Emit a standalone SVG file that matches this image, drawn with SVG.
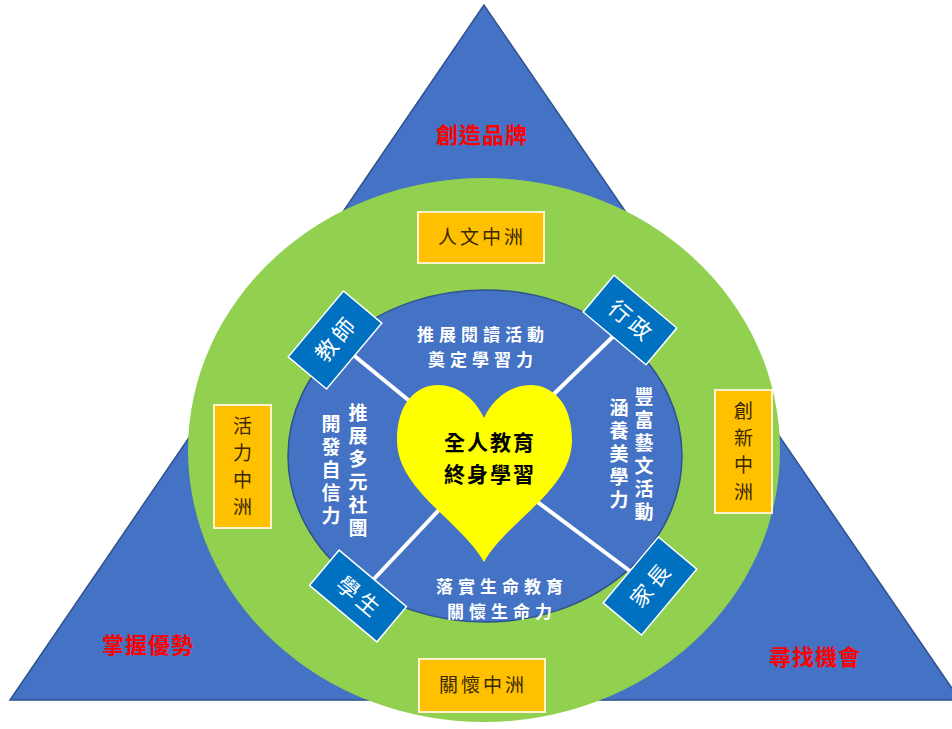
<svg xmlns="http://www.w3.org/2000/svg" width="952" height="729" viewBox="0 0 952 729">
<style>
.cjk{font-family:"Noto Sans CJK TC","Noto Sans CJK SC",sans-serif}
.red{fill:#FF0000;font-size:22px;font-weight:bold;text-anchor:middle}
.wt{fill:#FFFFFF;font-size:19px;font-weight:bold;text-anchor:middle}
.wh{font-size:17px;letter-spacing:5px}
.vt{writing-mode:vertical-rl;letter-spacing:4px}
.ob{fill:#FFC000;stroke:#FFF2CC;stroke-width:2}
.ot{fill:#3A2800;font-size:19px;text-anchor:middle}
.ovt{writing-mode:vertical-rl;letter-spacing:8px}
.rb{fill:#0070C0;stroke:#FFFFFF;stroke-width:1.5}
.rt{fill:#FFFFFF;font-size:22px;text-anchor:middle}
.conn{stroke:#FFFFFF;stroke-width:4;fill:none}
</style>
<rect width="952" height="729" fill="#FFFFFF"/>
<g id="triangle">
<polygon points="484,5 10,700 960,700" fill="#4472C4" stroke="#2F528F" stroke-width="1.5"/>
<text class="cjk red" x="482" y="143" letter-spacing="1">創造品牌</text>
<text class="cjk red" x="148" y="653" letter-spacing="1">掌握優勢</text>
<text class="cjk red" x="815" y="665" letter-spacing="1">尋找機會</text>
</g>
<g id="outer-ring">
<ellipse cx="484" cy="450" rx="296" ry="272" fill="#92D050"/>
</g>
<g id="inner-circle">
<ellipse cx="485" cy="456" rx="197" ry="166" fill="#4472C4" stroke="#2F528F" stroke-width="1.5"/>
</g>
<g id="connectors">
<line class="conn" x1="335" y1="340" x2="484" y2="462"/>
<line class="conn" x1="630" y1="320" x2="484" y2="462"/>
<line class="conn" x1="358" y1="596" x2="484" y2="462"/>
<line class="conn" x1="650" y1="586" x2="484" y2="462"/>
</g>
<g id="heart">
<path d="M484,418 C462,370 397,372 397,440 C397,490 460,520 484,562 C508,520 572,490 572,440 C572,372 506,370 484,418 Z" fill="#FFFF00"/>
<text class="cjk" x="490" y="450" font-size="21" font-weight="bold" text-anchor="middle" fill="#000000" letter-spacing="2">全人教育</text>
<text class="cjk" x="490" y="482" font-size="21" font-weight="bold" text-anchor="middle" fill="#000000" letter-spacing="2">終身學習</text>
</g>
<g id="text-top">
<text class="cjk wt wh" x="483" y="341">推展閱讀活動</text>
<text class="cjk wt wh" x="483" y="366">奠定學習力</text>
</g>
<g id="text-bottom">
<text class="cjk wt wh" x="502" y="593">落實生命教育</text>
<text class="cjk wt wh" x="502" y="618">關懷生命力</text>
</g>
<g id="text-left">
<text class="cjk wt vt" x="358" y="472">推展多元社團</text>
<text class="cjk wt vt" x="331" y="472">開發自信力</text>
</g>
<g id="text-right">
<text class="cjk wt vt" x="644" y="456">豐富藝文活動</text>
<text class="cjk wt vt" x="619" y="456">涵養美學力</text>
</g>
<g id="node-renwen">
<rect class="ob" x="418" y="212" width="126" height="51"/>
<text class="cjk ot" x="482" y="244" letter-spacing="3">人文中洲</text>
</g>
<g id="node-huoli">
<rect class="ob" x="214" y="405" width="57" height="123"/>
<text class="cjk ot ovt" x="242.5" y="470">活力中洲</text>
</g>
<g id="node-chuangxin">
<rect class="ob" x="715" y="390" width="57" height="123"/>
<text class="cjk ot ovt" x="743.5" y="455">創新中洲</text>
</g>
<g id="node-guanhuai">
<rect class="ob" x="419" y="659" width="126" height="53"/>
<text class="cjk ot" x="483" y="692" letter-spacing="3">關懷中洲</text>
</g>
<g id="node-teacher" transform="translate(335,340) rotate(-50)">
<rect class="rb" x="-43" y="-25" width="86" height="50"/>
<text class="cjk rt" x="2" y="8" letter-spacing="4">教師</text>
</g>
<g id="node-admin" transform="translate(630,320) rotate(40)">
<rect class="rb" x="-41" y="-24" width="82" height="48"/>
<text class="cjk rt" x="2" y="8" letter-spacing="4">行政</text>
</g>
<g id="node-student" transform="translate(358,596) rotate(40)">
<rect class="rb" x="-44" y="-23" width="88" height="46"/>
<text class="cjk rt" x="2" y="8" letter-spacing="4">學生</text>
</g>
<g id="node-parent" transform="translate(650,586) rotate(-50)">
<rect class="rb" x="-43" y="-25" width="86" height="50"/>
<text class="cjk rt" x="2" y="8" letter-spacing="4">家長</text>
</g>
</svg>
